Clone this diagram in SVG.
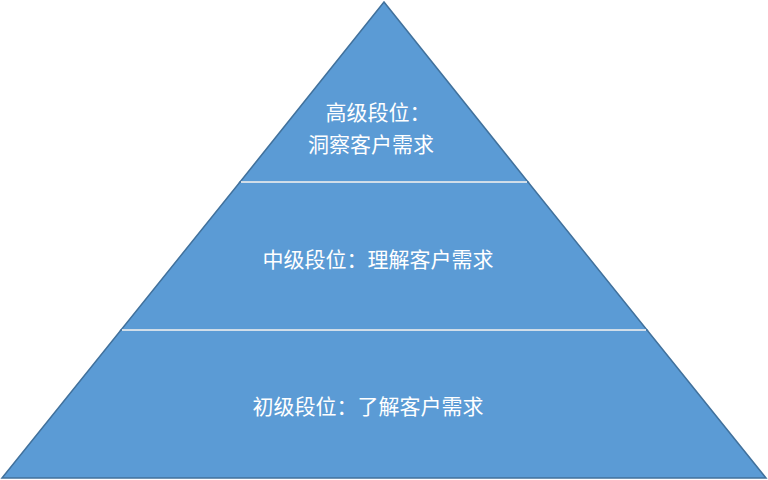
<svg xmlns="http://www.w3.org/2000/svg" width="768" height="480" viewBox="0 0 768 480">
<style>
.l{fill:#5B9BD5;stroke:#41719C;stroke-width:1.5}
.d{stroke:#fff;stroke-width:1.5}
text{font-family:"Noto Sans CJK SC","Liberation Sans",sans-serif;font-size:21px;fill:#fff;text-anchor:middle}
</style>
<g id="top"><polygon class="l" points="384,2 240,182 528,182"/>
<text x="378" y="120">高级段位：</text><text x="371" y="152">洞察客户需求</text></g>
<g id="mid"><polygon class="l" points="240,182 528,182 647,330 121,330"/>
<text x="378" y="267">中级段位：理解客户需求</text></g>
<g id="bot"><polygon class="l" points="121,330 647,330 766,478 2,478"/>
<text x="368" y="414">初级段位：了解客户需求</text></g>
<g id="connectors"><line class="d" x1="241" y1="182" x2="527" y2="182"/><line class="d" x1="122" y1="330" x2="646" y2="330"/></g>
</svg>
